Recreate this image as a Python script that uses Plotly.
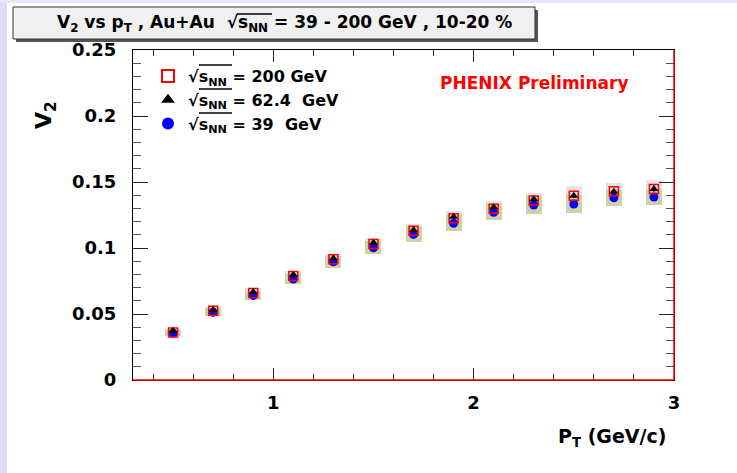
import plotly.graph_objects as go

# ---------------- data ----------------
pt = [0.5, 0.7, 0.9, 1.1, 1.3, 1.5, 1.7, 1.9, 2.1, 2.3, 2.5, 2.7, 2.9]
v2_200 = [0.0360, 0.0525, 0.0659, 0.0788, 0.0914, 0.1030, 0.1131, 0.1225, 0.1298, 0.1360, 0.1396, 0.1430, 0.1447]
v2_624 = [0.0371, 0.0530, 0.0667, 0.0798, 0.0921, 0.1040, 0.1136, 0.1237, 0.1308, 0.1370, 0.1396, 0.1427, 0.1447]
v2_39 = [0.0355, 0.0513, 0.0641, 0.0765, 0.0896, 0.1002, 0.1103, 0.1187, 0.1270, 0.1326, 0.1333, 0.1380, 0.1386]
sys_200 = [0.0025, 0.003, 0.0035, 0.0035, 0.004, 0.0045, 0.005, 0.0055, 0.0055, 0.006, 0.007, 0.0065, 0.0065]
sys_39 = [0.0025, 0.003, 0.0035, 0.004, 0.0045, 0.005, 0.0055, 0.006, 0.006, 0.0065, 0.0065, 0.006, 0.006]
stat_624 = [0.0007, 0.0007, 0.0008, 0.0008, 0.0009, 0.001, 0.0011, 0.0012, 0.0013, 0.0015, 0.0017, 0.002, 0.0024]
stat_39 = [0.0005, 0.0005, 0.0006, 0.0006, 0.0007, 0.0008, 0.0009, 0.001, 0.0011, 0.0012, 0.0013, 0.0015, 0.0018]
names = ["√s<sub>NN</sub> = 200 GeV", "√s<sub>NN</sub> = 62.4  GeV", "√s<sub>NN</sub> = 39  GeV"]
title_text = "V<sub>2</sub> vs p<sub>T</sub> , Au+Au  √s<sub>NN</sub> = 39 - 200 GeV , 10-20 %"
xtick_vals = [1, 2, 3]

# ---------------- geometry (pixels) ----------------
W, H = 737, 473
L, R, T, B = 133, 63, 50, 93
PW, PH = W - L - R, H - T - B

def px(xp):
    return (xp - L) / PW

def py(yp):
    return (H - B - yp) / PH

FONT = "DejaVu Sans, Verdana, sans-serif"
box_w = 0.08

fig = go.Figure()

# systematic boxes
fig.add_trace(go.Bar(x=pt, y=[2 * s for s in sys_200], base=[v - s for v, s in zip(v2_200, sys_200)],
                     width=box_w, marker=dict(color="#E4E4E4", line=dict(width=0)), showlegend=False,
                     hoverinfo="skip"))
fig.add_trace(go.Bar(x=pt, y=[2 * s for s in sys_39], base=[v - s for v, s in zip(v2_39, sys_39)],
                     width=box_w, marker=dict(color="#D3CFA5", line=dict(width=0)), showlegend=False,
                     hoverinfo="skip"))

# points
fig.add_trace(go.Scatter(x=pt, y=v2_39, mode="markers", name=names[2], legendrank=3, legendgroup="g39",
                         marker=dict(symbol="circle", size=9, color="#0000FF"),
                         error_y=dict(type="data", array=stat_39, color="#0000FF", thickness=1, width=0)))
fig.add_trace(go.Scatter(x=pt, y=v2_200, mode="markers", name=names[0], legendrank=1, legendgroup="g200",
                         marker=dict(symbol="square-open", size=9, color="#FF0000", line=dict(width=1.5))))
fig.add_trace(go.Scatter(x=pt, y=v2_624, mode="markers", name=names[1], legendrank=2, legendgroup="g62",
                         marker=dict(symbol="triangle-up", size=8, color="#000000"),
                         error_y=dict(type="data", array=stat_624, color="#000000", thickness=1, width=0)))

shapes = []
# lavender page strips
shapes.append(dict(type="rect", xref="paper", yref="paper", x0=px(0), x1=px(7), y0=py(H), y1=py(0),
                   fillcolor="#DCDCF8", line=dict(width=0), layer="below"))
shapes.append(dict(type="rect", xref="paper", yref="paper", x0=px(0), x1=px(W), y0=py(3), y1=py(0),
                   fillcolor="#E6E6FA", line=dict(width=0), layer="below"))
# title box with shadow
shapes.append(dict(type="rect", xref="paper", yref="paper", x0=px(16), x1=px(538), y0=py(42), y1=py(10),
                   fillcolor="#555555", line=dict(width=0)))
shapes.append(dict(type="rect", xref="paper", yref="paper", x0=px(13), x1=px(535), y0=py(39), y1=py(7),
                   fillcolor="#F0F0F0", line=dict(color="#333333", width=1)))
# red frame edges (bottom and right)
shapes.append(dict(type="line", xref="paper", yref="paper", x0=0, x1=1, y0=0, y1=0,
                   line=dict(color="#FF0000", width=1.5)))
shapes.append(dict(type="line", xref="paper", yref="paper", x0=1, x1=1, y0=0, y1=1,
                   line=dict(color="#FF0000", width=1.5)))

# vinculum (overline) of the square-root signs
vinc = [(237, 272, 14)] + [(199, 232, yc - 8) for yc in (73, 97, 121)]
for x0, x1, yv in vinc:
    shapes.append(dict(type="line", xref="paper", yref="paper", x0=px(x0), x1=px(x1), y0=py(yv), y1=py(yv),
                       line=dict(color="black", width=1.5)))

annotations = [
    dict(text=title_text, xref="paper", yref="paper", x=px(284), y=py(23), showarrow=False,
         font=dict(family=FONT, size=17, color="black", weight="bold"), xanchor="center", yanchor="middle"),
    dict(text="PHENIX Preliminary", xref="paper", yref="paper", x=px(534), y=py(83), showarrow=False,
         font=dict(family=FONT, size=17, color="#FF0000", weight="bold"), xanchor="center", yanchor="middle"),
    dict(text="V<sub>2</sub>", xref="paper", yref="paper", x=px(45), y=py(115), showarrow=False, textangle=-90,
         font=dict(family=FONT, size=22, color="black", weight="bold"), xanchor="center", yanchor="middle"),
    dict(text="P<sub>T</sub> (GeV/c)", xref="paper", yref="paper", x=px(668), y=py(437), showarrow=False,
         font=dict(family=FONT, size=19, color="black", weight="bold"), xanchor="right", yanchor="middle"),
]

fig.update_layout(
    width=W, height=H,
    margin=dict(l=L, r=R, t=T, b=B, pad=0),
    paper_bgcolor="white", plot_bgcolor="white",
    barmode="overlay", bargap=0,
    shapes=shapes, annotations=annotations,
    showlegend=True,
    legend=dict(x=px(148), y=py(59), xanchor="left", yanchor="top", bgcolor="rgba(0,0,0,0)",
                font=dict(family=FONT, size=16, color="black", weight="bold"), tracegroupgap=0,
                itemsizing="constant", itemwidth=30),
    xaxis=dict(range=[0.3, 3.0], tickvals=xtick_vals, ticks="inside", ticklen=12, tickcolor="#222",
               showgrid=False, zeroline=False, showline=True, linecolor="black", linewidth=1, mirror="ticks",
               minor=dict(ticks="inside", ticklen=6, dtick=0.2, tick0=0, tickcolor="#222", showgrid=False),
               tickfont=dict(family=FONT, size=18, color="black", weight="bold"), ticklabelstandoff=6),
    yaxis=dict(range=[0, 0.25], dtick=0.05, ticks="inside", ticklen=15, tickcolor="#222",
               showgrid=False, zeroline=False, showline=True, linecolor="black", linewidth=1, mirror="ticks",
               minor=dict(ticks="inside", ticklen=8, dtick=0.01, tickcolor="#555", showgrid=False),
               tickfont=dict(family=FONT, size=18, color="black", weight="bold"), ticklabelstandoff=12),
)

fig.write_html("out.html", config={"displayModeBar": False},
               post_script="document.body.style.margin='0';document.body.style.overflow='hidden';")
